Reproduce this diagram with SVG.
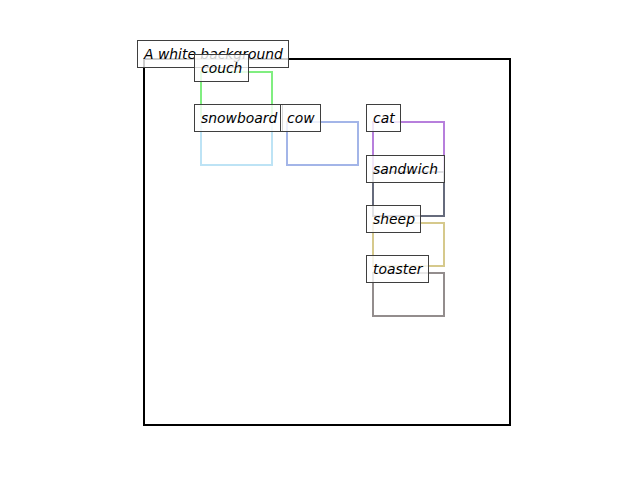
<svg xmlns="http://www.w3.org/2000/svg" width="640" height="480" viewBox="0 0 640 480">
  <style>
    .box { fill: none; stroke-width: 2; }
    .lbl rect { fill: #ffffff; fill-opacity: 0.8; stroke: #3f3f3f; stroke-width: 1; }
    .lbl text { font-family: "DejaVu Sans", sans-serif; font-style: oblique; font-size: 13.9px; fill: #000; }
  </style>
  <rect width="640" height="480" fill="#ffffff"/>
  <!-- canvas frame -->
  <rect x="144" y="59" width="366" height="366" fill="none" stroke="#000" stroke-width="2"/>
  <g id="edges"></g>
  <!-- object boxes -->
  <g id="couch"><rect class="box" x="201" y="72" width="71" height="93" stroke="#80ee80"/></g>
  <g id="snowboard"><rect class="box" x="201" y="118" width="71" height="47" stroke="#bde3f5"/></g>
  <g id="cow"><rect class="box" x="287" y="122" width="71" height="43" stroke="#a3b5e8"/></g>
  <g id="cat"><rect class="box" x="373" y="122" width="71" height="50" stroke="#b77fdc"/></g>
  <g id="sandwich"><rect class="box" x="373" y="172" width="71" height="44" stroke="#666b7c"/></g>
  <g id="sheep"><rect class="box" x="373" y="223" width="71" height="43" stroke="#d6c98c"/></g>
  <g id="toaster"><rect class="box" x="373" y="273" width="71" height="43" stroke="#938d8d"/></g>
  <!-- labels -->
  <g id="label-background" class="lbl"><rect x="137.5" y="40.5" width="151" height="27"/><text x="144" y="59">A white background</text></g>
  <g id="label-couch" class="lbl"><rect x="194.5" y="54.5" width="54" height="27"/><text x="201" y="73">couch</text></g>
  <g id="label-snowboard" class="lbl"><rect x="194.5" y="104.5" width="88" height="27"/><text x="201" y="123">snowboard</text></g>
  <g id="label-cow" class="lbl"><rect x="280.5" y="104.5" width="40" height="27"/><text x="287" y="123">cow</text></g>
  <g id="label-cat" class="lbl"><rect x="366.5" y="104.5" width="34" height="27"/><text x="373" y="123">cat</text></g>
  <g id="label-sandwich" class="lbl"><rect x="366.5" y="155.5" width="78" height="27"/><text x="373" y="174">sandwich</text></g>
  <g id="label-sheep" class="lbl"><rect x="366.5" y="205.5" width="54" height="27"/><text x="373" y="224">sheep</text></g>
  <g id="label-toaster" class="lbl"><rect x="366.5" y="255.5" width="62" height="27"/><text x="373" y="274">toaster</text></g>
</svg>
